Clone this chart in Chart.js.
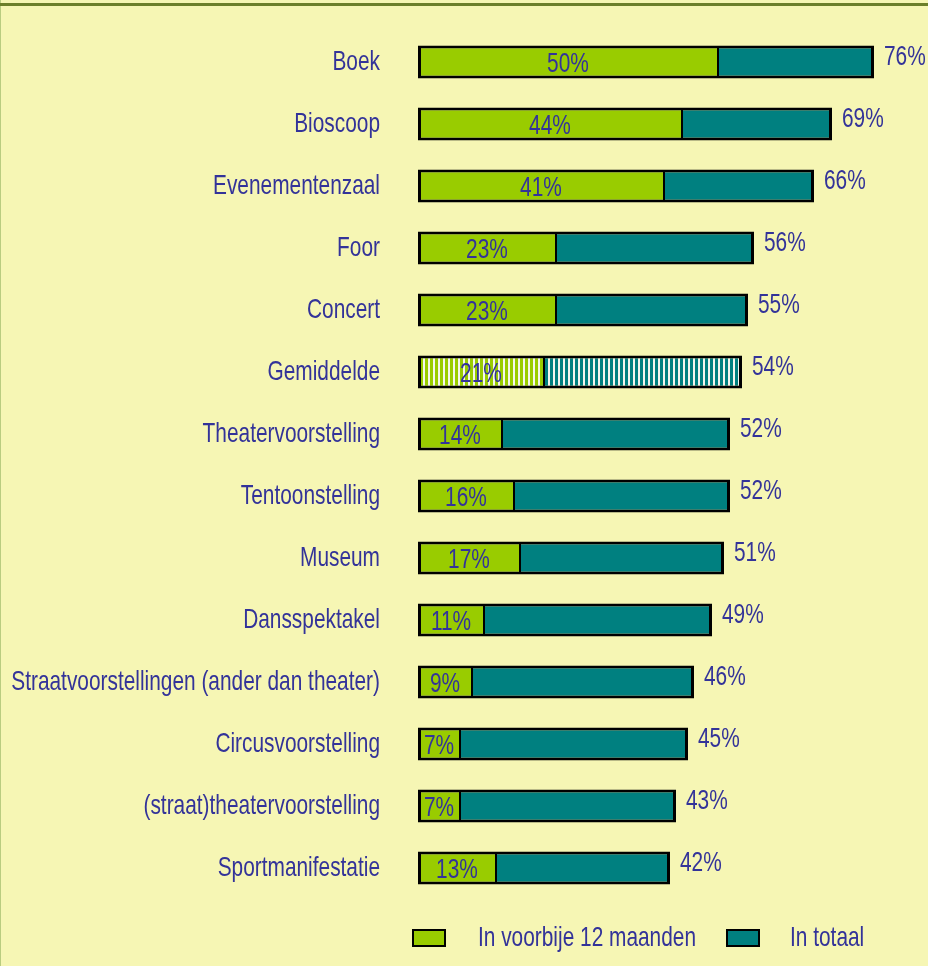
<!DOCTYPE html>
<html>
<head>
<meta charset="utf-8">
<script src="https://cdn.jsdelivr.net/npm/chart.js@4/dist/chart.umd.min.js"></script>
<style>
  body { margin: 0; background: #f6f6b4; }
  canvas { display: block; }
</style>
</head>
<body>
<canvas id="myChart" width="928" height="966"></canvas>
<script>
// Gegevens
const categories = [
	"Boek", "Bioscoop", "Evenementenzaal", "Foor", "Concert", "Gemiddelde",
	"Theatervoorstelling", "Tentoonstelling", "Museum", "Dansspektakel",
	"Straatvoorstellingen (ander dan theater)", "Circusvoorstelling",
	"(straat)theatervoorstelling", "Sportmanifestatie"
];
const recent = [50, 44, 41, 23, 23, 21, 14, 16, 17, 11, 9, 7, 7, 13];
const total = [76, 69, 66, 56, 55, 54, 52, 52, 51, 49, 46, 45, 43, 42];
const seriesNames = ["In voorbije 12 maanden", "In totaal"];
const averageIndex = 5;

const GREEN = "#99cc00";
const TEAL = "#008080";
const TEXT = "#333399";
const FONT = "28px 'Liberation Sans', Arial, sans-serif";
const SQUEEZE = 0.745; // smalle letter zoals in het origineel

function stripes(color) {
	const c = document.createElement("canvas");
	c.width = 5;
	c.height = 10;
	const g = c.getContext("2d");
	g.fillStyle = "#f4f6ee";
	g.fillRect(0, 0, 5, 10);
	g.fillStyle = color;
	g.fillRect(0, 0, 3, 10);
	return g.createPattern(c, "repeat");
}

function narrowText(c, txt, x, y, align) {
	c.save();
	c.translate(x, y);
	c.scale(SQUEEZE, 1);
	c.textAlign = align;
	c.fillText(txt, 0, 0);
	c.restore();
}

const ctx = document.getElementById("myChart").getContext("2d");
const greenFill = categories.map((c, i) => i === averageIndex ? stripes(GREEN) : GREEN);
const tealFill = categories.map((c, i) => i === averageIndex ? stripes(TEAL) : TEAL);

const labelPlugin = {
	id: "labels",
	beforeDraw(chart) {
		const c = chart.ctx;
		c.save();
		c.fillStyle = "#f6f6b4";
		c.fillRect(0, 0, chart.width, chart.height);
		c.fillStyle = "#b9cc80";
		c.fillRect(0, 0, 1, chart.height);
		c.fillStyle = "#6b7f2a";
		c.fillRect(0, 3, chart.width, 3);
		c.restore();
	},
	afterDatasetsDraw(chart) {
		const c = chart.ctx;
		const yScale = chart.scales.y;
		const m0 = chart.getDatasetMeta(0);
		const m1 = chart.getDatasetMeta(1);
		c.save();
		c.font = FONT;
		c.fillStyle = TEXT;
		c.textBaseline = "middle";
		// categorieën
		chart.data.labels.forEach((lab, i) => {
			narrowText(c, lab, chart.chartArea.left - 38, yScale.getPixelForTick(i), "right");
		});
		m0.data.forEach((bar, i) => {
			narrowText(c, recent[i] + "%", (bar.x + bar.base) / 2, bar.y + 2, "center");
			const end = m1.data[i];
			narrowText(c, total[i] + "%", end.x + 10, end.y - 5, "left");
		});
		// legenda
		const ly = 938;
		const items = [
			{ box: 413, text: 478, color: GREEN },
			{ box: 727, text: 790, color: TEAL },
		];
		items.forEach((it, k) => {
			c.fillStyle = it.color;
			c.fillRect(it.box, ly - 8, 32, 16);
			c.strokeStyle = "#000";
			c.lineWidth = 2;
			c.strokeRect(it.box, ly - 8, 32, 16);
			c.fillStyle = TEXT;
			narrowText(c, chart.data.datasets[k].label, it.text, ly, "left");
		});
		c.restore();
	},
};

let myChart = new Chart(ctx, {
	type: "bar",
	data: {
		labels: categories,
		datasets: [
			{
				label: seriesNames[0],
				data: recent,
				backgroundColor: greenFill,
				borderColor: "#000",
				borderWidth: { top: 3, bottom: 3, left: 3, right: 1 },
				borderSkipped: false,
			},
			{
				label: seriesNames[1],
				data: total.map((t, i) => t - recent[i]),
				backgroundColor: tealFill,
				borderColor: "#000",
				borderWidth: { top: 3, bottom: 3, left: 1, right: 3 },
				borderSkipped: false,
			},
		],
	},
	options: {
		indexAxis: "y",
		responsive: false,
		animation: false,
		barPercentage: 0.53,
		categoryPercentage: 1,
		layout: { padding: { top: 31, bottom: 67, left: 0, right: 0 } },
		plugins: {
			legend: { display: false },
			tooltip: { enabled: false },
		},
		scales: {
			x: { stacked: true, display: false, min: 0, max: 85 },
			y: {
				stacked: true,
				grid: { display: false, drawTicks: false },
				border: { display: false },
				ticks: { display: false },
				afterFit(scale) {
					scale.width = 418;
					scale.paddingTop = 0;
					scale.paddingBottom = 0;
				},
			},
		},
	},
	plugins: [labelPlugin],
});
</script>
</body>
</html>
